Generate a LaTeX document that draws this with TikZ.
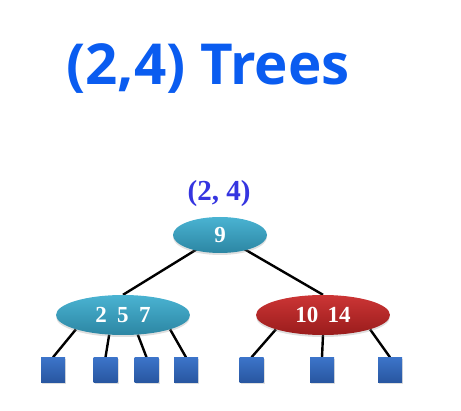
\documentclass[tikz,border=0pt]{standalone}
\usepackage{fontspec}
\setmainfont{Liberation Serif}
\newfontfamily\titlefont{Open Sans}
\usetikzlibrary{shapes.geometric,shadows,backgrounds}
\definecolor{titleblue}{HTML}{0A5CF0}
\definecolor{labblue}{HTML}{3535E0}
\definecolor{tealtop}{HTML}{4AB3D2}
\definecolor{tealbot}{HTML}{2C86A3}
\definecolor{redtop}{HTML}{CC3535}
\definecolor{redbot}{HTML}{9A1C1C}
\definecolor{sqtop}{HTML}{3C74C9}
\definecolor{sqbot}{HTML}{2856A0}
\tikzset{
  keynode/.style={ellipse, inner sep=0pt, text=white, font=\bfseries\fontsize{23}{23}\selectfont,
    drop shadow={shadow xshift=0pt, shadow yshift=-2pt, opacity=0.25}},
  tealnode/.style={keynode, top color=tealtop, bottom color=tealbot},
  rednode/.style={keynode, top color=redtop, bottom color=redbot},
  leaf/.style={rectangle, minimum width=24pt, minimum height=25pt, inner sep=0pt,
    top color=sqtop, bottom color=sqbot,
    drop shadow={shadow xshift=1pt, shadow yshift=-1.5pt, opacity=0.25}},
  link/.style={line width=2.4pt, black}
}
\begin{document}
\begin{tikzpicture}[x=1pt,y=-1pt]
\useasboundingbox (0,0) rectangle (461,411);
\node[text=titleblue, font=\titlefont\bfseries\fontsize{56.5}{56.5}\selectfont, inner sep=0pt] (title) at (208,69) {(2,4) Trees};
\node[text=labblue, font=\bfseries\fontsize{29}{29}\selectfont, inner sep=0pt] (lab) at (219,194) {(2, 4)};
\node[tealnode, minimum width=94pt, minimum height=36pt] (root) at (220,235) {9};
\node[tealnode, minimum width=134pt, minimum height=40pt] (left) at (123,315) {2\hspace{0.45em}5\hspace{0.45em}7};
\node[rednode, minimum width=134pt, minimum height=40pt] (right) at (323,315) {10\hspace{0.4em}14};
\node[leaf] (l1) at (53,370) {};
\node[leaf] (l2) at (105.5,370) {};
\node[leaf] (l3) at (146.5,370) {};
\node[leaf] (l4) at (186,370) {};
\node[leaf] (r1) at (251.5,370) {};
\node[leaf] (r2) at (322,370) {};
\node[leaf] (r3) at (390,370) {};
\begin{scope}[on background layer]
\draw[link] (root.center) -- (left.north);
\draw[link] (root.center) -- (right.north);
\draw[link] (left.197) -- (l1.north);
\draw[link] (left.235) -- (l2.north);
\draw[link] (left.307) -- (l3.north);
\draw[link] (left.343) -- (l4.north);
\draw[link] (right.197) -- (r1.north);
\draw[link] (right.south) -- (r2.north);
\draw[link] (right.343) -- (r3.north);
\end{scope}
\end{tikzpicture}
\end{document}
